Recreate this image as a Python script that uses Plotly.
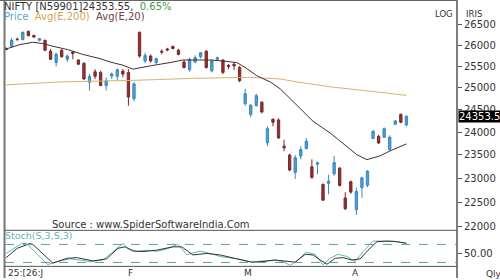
import math
import plotly.graph_objects as go

# ---------------- data ----------------
idx = list(range(73))
opens = [25930, 25981, 26150, 26140, 26339, 26242, 26123, 26123, 25863, 25592,
         25886, 25669, 25844, 25653, 25576, 25132, 25375, 25361, 25054, 25276,
         25270, 25391, 25361, 24753, 26315, 25629, 25746, 25592, 25860, 25915,
         25974, 25886, 25606, 25421, 25606, 25732, 25863, 25398, 25669, 25653,
         25530, 25553, 25476, 24641, 24396, 24596, 24674, 23762, 24286, 24271,
         23691, 23499, 23124, 23477, 23640, 23244, 23300, 22867, 22894, 23093,
         23214, 22585, 22926, 22340, 22802, 22853, 23859, 23907, 23885, 23619,
         24176, 24396, 24161]
highs = [25955, 26181, 26190, 26339, 26362, 26259, 26181, 26140, 25919, 25826,
         25919, 25786, 25863, 25669, 25592, 25322, 25437, 25398, 25245, 25361,
         25453, 25437, 25437, 25132, 26339, 25826, 25786, 25709, 25903, 25943,
         25998, 25919, 25653, 25709, 25762, 25839, 25886, 25669, 25732, 25669,
         25553, 25606, 25514, 24979, 24630, 24866, 24693, 24127, 24308, 24308,
         23833, 23527, 23499, 23691, 23870, 23405, 23356, 22894, 23075, 23477,
         23244, 22708, 22950, 22802, 23034, 23172, 24051, 23943, 24105, 23929,
         24271, 24418, 24374]
lows = [25885, 25943, 26115, 26123, 26219, 26180, 26100, 25862, 25653, 25500,
        25709, 25606, 25669, 25530, 25191, 24940, 25207, 25041, 24940, 25207,
        25168, 25245, 24592, 24693, 25709, 25576, 25592, 25553, 25786, 25863,
        25903, 25762, 25453, 25375, 25576, 25685, 25453, 25361, 25653, 25322,
        25437, 25421, 25132, 24590, 24330, 24574, 24418, 23691, 24132, 23855,
        23583, 23145, 22985, 23405, 23619, 22985, 23088, 22524, 22661, 23054,
        22826, 22340, 22673, 22233, 22590, 22812, 23855, 23741, 23870, 23584,
        24161, 24198, 24125]
closes = [25900, 26123, 26140, 26315, 26235, 26204, 26164, 25886, 25669, 25786,
          25732, 25746, 25809, 25553, 25207, 25270, 25270, 25054, 25168, 25322,
          25421, 25322, 24791, 25093, 25746, 25762, 25629, 25685, 25840, 25891,
          25927, 25786, 25476, 25669, 25709, 25826, 25476, 25629, 25709, 25361,
          25499, 25514, 25168, 24866, 24601, 24821, 24451, 24075, 24220, 23870,
          23655, 23177, 23441, 23619, 23799, 23020, 23330, 22540, 22936, 23335,
          22846, 22360, 22708, 22719, 23009, 23151, 24016, 23762, 24075, 23885,
          24249, 24220, 24353.55]

ema20_idx = [0, 2.5, 4.8, 6.6, 8.4, 11, 13.8, 16.9, 18.7, 21, 22.8, 24.6, 25.9, 29.5,
             31.8, 34.3, 36.7, 39, 41.5, 43, 45.1, 47.5, 49.3, 52.3, 55.2, 58.3,
             61.3, 63.1, 64.9, 67.2, 69, 72]
ema20_val = [25915, 26021, 26076, 26045, 25981, 25903, 25786, 25685, 25606, 25530,
             25437, 25490, 25514, 25592, 25653, 25653, 25653, 25629, 25592, 25476,
             25284, 25139, 24979, 24603, 24242, 23979, 23677, 23505, 23399, 23477,
             23584, 23741]

ema200_idx = [0, 9.7, 22.3, 34.3, 43.9, 49.3, 52.3, 58.3, 67.2, 72]
ema200_val = [25070, 25139, 25173, 25224, 25247, 25207, 25139, 25025, 24900, 24828]

stk_idx = [0, 2.8, 3.7, 7.5, 9.2, 11.5, 13.3, 15.1, 17.4, 19.2, 21, 21.9, 23.5, 25.3,
           27.1, 28.9, 30.9, 32.5, 34.9, 37.2, 38.5, 41.5, 44.2, 46.2, 48.4, 49.8,
           51.1, 52.5, 53.9, 55.6, 57, 58.3, 59.7, 61.3, 62.8, 64.2, 66, 67.8, 69.6, 72]
stk_val = [50, 83, 83, 13, 23, 32, 28, 23, 28, 57, 83, 67, 57, 61,
           57, 65, 80, 46, 58, 47, 40, 32, 21, 25, 28, 23,
           10, 28, 54, 47, 12, 34, 47, 40, 23, 56, 91, 91, 91, 84]

std_idx = [0, 2, 4.3, 4.8, 8.4, 11, 12.8, 15.6, 18.1, 20.1, 21.4, 22.8, 24.6, 27.1,
           30, 31.6, 33.6, 36.1, 38.5, 40.3, 41.5, 44.2, 46.2, 48.4, 50.5, 52,
           53.8, 55.2, 56.5, 57.7, 59.2, 60.6, 62.2, 63.7, 65.1, 66.7, 68.5, 70.3, 72]
std_val = [36, 67, 83, 80, 18, 34, 36, 25, 32, 67, 72, 58, 56, 61,
           72, 72, 45, 50, 45, 36, 32, 21, 23, 28, 23, 21,
           47, 45, 28, 14, 34, 36, 28, 32, 61, 89, 91, 89, 84]

price_ticks = [22000, 22500, 23000, 23500, 24000, 24500, 25000, 25500, 26000, 26500]
month_labels = ["F", "M", "A"]
month_pos = [22.4, 43.5, 62.8]
last_price = 24353.55

# ---------------- figure ----------------
W, H = 500, 280
def px(x):
    return x / W
def py(y):
    return 1 - y / H

fig = go.Figure()

fig.add_trace(go.Scatter(x=ema200_idx, y=ema200_val, mode="lines",
                         line=dict(color="#d9b36f", width=1), hoverinfo="skip",
                         xaxis="x", yaxis="y"))
fig.add_trace(go.Scatter(x=ema20_idx, y=ema20_val, mode="lines",
                         line=dict(color="#4a2e2e", width=1), hoverinfo="skip",
                         xaxis="x", yaxis="y"))
fig.add_trace(go.Candlestick(
    x=idx, open=opens, high=highs, low=lows, close=closes,
    increasing=dict(line=dict(color="#3a88bd", width=1), fillcolor="#4d9fd3"),
    decreasing=dict(line=dict(color="#7c2727", width=1), fillcolor="#8e3434"),
    whiskerwidth=0, xaxis="x", yaxis="y"))

fig.add_trace(go.Scatter(x=stk_idx, y=stk_val, mode="lines",
                         line=dict(color="#5fb3b8", width=1), hoverinfo="skip",
                         xaxis="x2", yaxis="y2"))
fig.add_trace(go.Scatter(x=std_idx, y=std_val, mode="lines",
                         line=dict(color="#333333", width=1), hoverinfo="skip",
                         xaxis="x2", yaxis="y2"))

xr = [-0.2, 81.1]
xdom = [0.01, 0.914]
main_top, main_bot, st_bot = 1, 232, 268.3

fig.update_layout(
    width=W, height=H, margin=dict(l=0, r=0, t=0, b=0),
    paper_bgcolor="white", plot_bgcolor="white",
    showlegend=False, boxgap=0.4,
    font=dict(family="DejaVu Sans", size=10, color="#333"),
    xaxis=dict(domain=xdom, range=xr, showgrid=False, zeroline=False,
               showticklabels=False, rangeslider=dict(visible=False),
               fixedrange=True, anchor="y"),
    xaxis2=dict(domain=xdom, range=xr, showgrid=False, zeroline=False,
                showticklabels=False, matches="x", anchor="y2"),
    yaxis=dict(domain=[py(main_bot), py(main_top)], type="log",
               range=[math.log10(21920), math.log10(27089)],
               side="right", anchor="x", showgrid=False, zeroline=False,
               tickvals=price_ticks, ticktext=[str(t) for t in price_ticks],
               ticks="outside", ticklen=4, tickcolor="#555",
               tickfont=dict(size=10, color="#333")),
    yaxis2=dict(domain=[py(st_bot), py(main_bot)], range=[6.9, 126.9],
                side="right", anchor="x2", showgrid=False, zeroline=False,
                tickvals=[50], ticktext=["50.00"], ticks="outside", ticklen=4,
                tickcolor="#555", tickfont=dict(size=10, color="#333")),
)

shapes = []
# borders
shapes.append(dict(type="line", xref="paper", yref="paper", x0=px(4.5), x1=px(4.5),
                   y0=0, y1=1, line=dict(color="#777", width=2)))
shapes.append(dict(type="line", xref="paper", yref="paper", x0=px(457), x1=px(457),
                   y0=0, y1=1, line=dict(color="#555", width=1.5)))
shapes.append(dict(type="line", xref="paper", yref="paper", x0=0, x1=px(457),
                   y0=py(0.5), y1=py(0.5), line=dict(color="#666", width=1)))
shapes.append(dict(type="line", xref="paper", yref="paper", x0=px(4.5), x1=px(457),
                   y0=py(main_bot), y1=py(main_bot), line=dict(color="#555", width=1)))
shapes.append(dict(type="line", xref="paper", yref="paper", x0=px(4.5), x1=px(457),
                   y0=py(st_bot), y1=py(st_bot), line=dict(color="#555", width=1)))
for lvl in (80, 20):
    shapes.append(dict(type="line", xref="paper", yref="y2", x0=px(5), x1=px(457),
                       y0=lvl, y1=lvl, line=dict(color="#5f9ea0", width=1, dash="dash")))
fig.update_layout(shapes=shapes)

ann = []
ann.append(dict(xref="paper", yref="paper", x=px(2), y=py(7), xanchor="left", yanchor="middle",
                text="NIFTY [N59901]24353.55,  <span style='color:#3f9a3f'>0.65%</span>",
                showarrow=False, font=dict(size=10, color="#333")))
ann.append(dict(xref="paper", yref="paper", x=px(2), y=py(16.5), xanchor="left", yanchor="middle",
                text="<span style='color:#5aa3cc'>Price</span>  "
                     "<span style='color:#d4a552'>Avg(E,200)</span>  "
                     "<span style='color:#6b4444'>Avg(E,20)</span>",
                showarrow=False, font=dict(size=10)))
ann.append(dict(xref="paper", yref="paper", x=px(433), y=py(14), xanchor="left", yanchor="middle",
                text="LOG", showarrow=False, font=dict(size=8.5, color="#333")))
ann.append(dict(xref="paper", yref="paper", x=px(464), y=py(14), xanchor="left", yanchor="middle",
                text="IRIS", showarrow=False, font=dict(size=8.5, color="#333")))
ann.append(dict(xref="paper", yref="paper", x=px(50), y=py(226), xanchor="left", yanchor="middle",
                text="Source : www.SpiderSoftwareIndia.Com", showarrow=False,
                font=dict(size=10, color="#333")))
ann.append(dict(xref="paper", yref="paper", x=px(3), y=py(237), xanchor="left", yanchor="middle",
                text="Stoch(S,3,S,3)", showarrow=False, font=dict(size=9.5, color="#5fb3c0")))
ann.append(dict(xref="paper", yref="paper", x=px(6), y=py(274.5), xanchor="left", yanchor="middle",
                text="25:[26:J", showarrow=False, font=dict(size=9, color="#333")))
for lab, pos in zip(month_labels, month_pos):
    ann.append(dict(xref="x", yref="paper", x=pos, y=py(274.5), xanchor="center", yanchor="middle",
                    text=lab, showarrow=False, font=dict(size=9, color="#333")))
ann.append(dict(xref="paper", yref="paper", x=px(484), y=py(276), xanchor="left", yanchor="middle",
                text="Qly", showarrow=False, font=dict(size=9, color="#333")))
ann.append(dict(xref="paper", yref="y", x=px(458), y=math.log10(last_price), xanchor="left",
                yanchor="middle", text=f"{last_price:.2f}", showarrow=False, bgcolor="black",
                borderpad=0, font=dict(size=10, color="white")))
fig.update_layout(annotations=ann)

fig.write_html("out.html")
